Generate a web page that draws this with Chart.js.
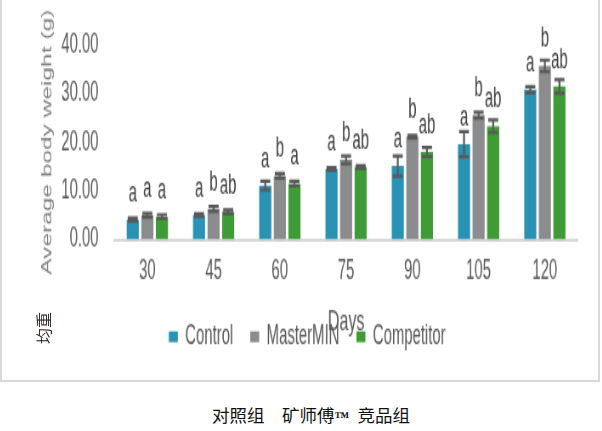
<!DOCTYPE html>
<html>
<head>
<meta charset="utf-8">
<script src="https://cdn.jsdelivr.net/npm/chart.js@4/dist/chart.umd.min.js"></script>
<style>
  body { margin: 0; background: #fff; width: 602px; height: 431px; overflow: hidden; position: relative; }
  #frame { position: absolute; left: 0; top: -2px; width: 596px; height: 380px; border: 2px solid #d9d9d9; }
  /* the source picture is squeezed sideways and stretched upward, so the chart is too */
  #stretch { position: absolute; left: 0; top: 0; width: 701px; height: 245px; transform: scale(0.85, 1.55); transform-origin: 0 0; }
  #side { position: absolute; left: 21px; top: 318px; width: 40px; height: 20px; line-height: 20px; text-align: center;
          font: 16px "Noto Sans CJK SC"; color: #3a2a2a; transform: rotate(-90deg); }
  #caption { position: absolute; left: 0; top: 404px; width: 602px; padding-left: 20px; box-sizing: border-box; text-align: center;
             font: 17.5px "Noto Sans CJK SC"; line-height: 22px; color: #111; }
  #caption span { font: bold 15px "Liberation Serif"; }
</style>
</head>
<body>
<div id="frame">
  <div id="stretch"><canvas id="myChart"></canvas></div>
</div>
<div id="side">均重</div>
<div id="caption">对照组　矿师傅<span>™</span>&nbsp; 竞品组</div>
<script>
// days on the x axis
const days = ['30', '45', '60', '75', '90', '105', '120'];
const yTicks = [0, 10, 20, 30, 40];

// average body weight (g)
const control = [4.1, 5.0, 11.1, 14.5, 15.1, 19.6, 30.8];
const masterMin = [5.0, 6.3, 13.1, 16.4, 21.1, 25.6, 35.7];
const competitor = [4.7, 5.7, 11.5, 14.9, 18.0, 23.3, 31.5];

// error bars (+/-)
const controlErr = [0.3, 0.3, 0.9, 0.3, 2.1, 2.6, 0.65];
const masterMinErr = [0.4, 0.5, 0.5, 0.8, 0.3, 0.6, 1.2];
const competitorErr = [0.4, 0.4, 0.5, 0.3, 0.95, 1.3, 1.4];

// significance letters
const controlSig = ['a', 'a', 'a', 'a', 'a', 'a', 'a'];
const masterMinSig = ['a', 'b', 'b', 'b', 'b', 'b', 'b'];
const competitorSig = ['a', 'ab', 'a', 'ab', 'ab', 'ab', 'ab'];

const sans = "'Liberation Sans', Arial, sans-serif";

const errorBars = {
  id: 'errorBars',
  afterDatasetsDraw(chart) {
    const c = chart.ctx;
    const y = chart.scales.y;
    c.save();
    chart.data.datasets.forEach((ds, i) => {
      const meta = chart.getDatasetMeta(i);
      meta.data.forEach((bar, j) => {
        const v = ds.data[j];
        const e = ds.err[j];
        const top = y.getPixelForValue(v + e);
        const bot = y.getPixelForValue(v - e);
        c.strokeStyle = '#595959';
        c.lineWidth = 2.2;
        c.beginPath();
        c.moveTo(bar.x, top); c.lineTo(bar.x, bot);
        c.moveTo(bar.x - 5.9, top); c.lineTo(bar.x + 5.9, top);
        c.moveTo(bar.x - 5.9, bot); c.lineTo(bar.x + 5.9, bot);
        c.stroke();
        c.fillStyle = '#404040';
        c.font = '17.5px ' + sans;
        c.textAlign = 'center';
        c.textBaseline = 'alphabetic';
        c.fillText(ds.sig[j], bar.x, y.getPixelForValue(v) - 12);
      });
    });
    c.restore();
  }
};

const ctx = document.getElementById('myChart');

new Chart(ctx, {
  type: 'bar',
  data: {
    labels: days,
    datasets: [
      { label: 'Control', data: control, err: controlErr, sig: controlSig, backgroundColor: '#2a93b5' },
      { label: 'MasterMIN', data: masterMin, err: masterMinErr, sig: masterMinSig, backgroundColor: '#8b8c8e' },
      { label: 'Competitor', data: competitor, err: competitorErr, sig: competitorSig, backgroundColor: '#3e9b35' }
    ]
  },
  options: {
    responsive: true,
    maintainAspectRatio: false,
    animation: false,
    layout: { padding: { left: 40.5, right: 23.4, top: 26, bottom: 9 } },
    datasets: { bar: { categoryPercentage: 0.66, barPercentage: 0.83 } },
    scales: {
      x: {
        grid: { display: false, drawTicks: false },
        border: { color: '#d9d9d9', width: 2 },
        ticks: { padding: 10.3, color: '#595959', font: { family: sans, size: 17.5 } },
        title: { display: true, text: 'Days', color: '#595959', font: { family: sans, size: 19 }, padding: { top: 0, bottom: -30.4 } }
      },
      y: {
        min: 0,
        max: 40,
        grid: { display: false, drawTicks: false },
        border: { display: false },
        afterBuildTicks: axis => { axis.ticks = yTicks.map(v => ({ value: v })); },
        afterFit: axis => { axis.width = 91.5; },
        ticks: { padding: 18.5, color: '#595959', font: { family: sans, size: 17.5 }, callback: v => v.toFixed(2) },
        title: { display: true, text: 'Average body weight (g)', color: '#7f7f7f', font: { family: sans, size: 15.8 }, padding: { top: 4, bottom: 4 } }
      }
    },
    plugins: {
      legend: {
        position: 'bottom',
        labels: { boxWidth: 10.6, boxHeight: 7, padding: 20, color: '#595959', font: { family: sans, size: 17.5 } }
      },
      tooltip: { enabled: false }
    }
  },
  plugins: [errorBars]
});
</script>
</body>
</html>
